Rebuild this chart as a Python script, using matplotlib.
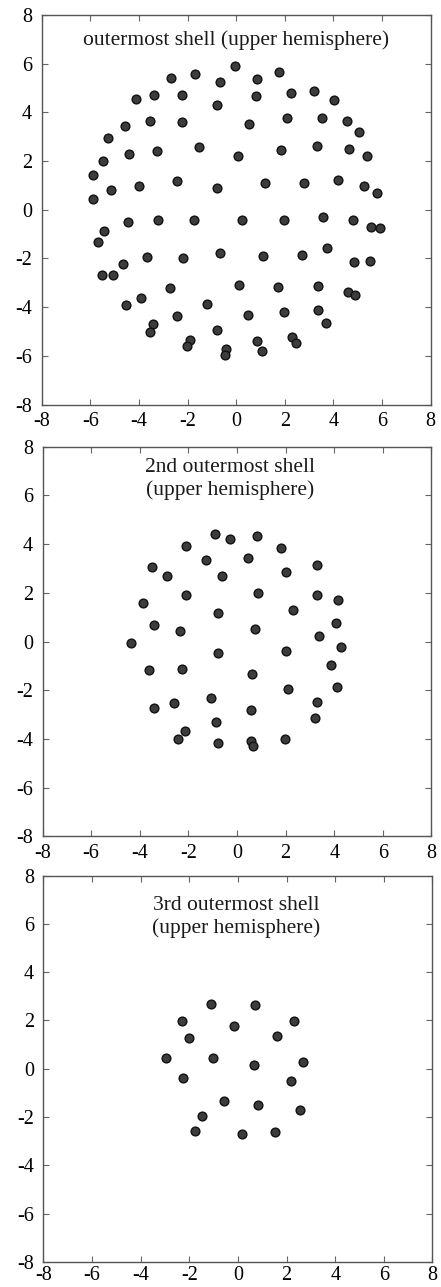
import matplotlib
matplotlib.use("Agg")
import matplotlib.pyplot as plt

# Shell 1 (outermost)
x1 = [-0.05, -1.70, -2.70, -0.67, 0.85, 1.77, -4.13, -3.39, -2.22, -0.80, 0.82, 2.25, 3.22, 4.01,
      -4.57, -3.53, -2.25, 0.53, 2.11, 3.51, 4.54, 5.06, -5.29, -5.46, -4.40, -3.24, -1.51, 0.08,
      1.84, 3.33, 4.62, 5.38, -5.87, -5.14, -4.01, -2.44, -0.77, 1.18, 2.78, 4.20, 5.24, 5.79, -5.91,
      -4.47, -3.22, -1.73, 0.25, 1.98, 3.58, 4.81, 5.53, 5.93, -5.42, -5.67, -3.68, -2.19, -0.66,
      1.11, 2.70, 3.74, 4.86, 5.50, -4.65, -5.51, -5.06, -2.74, 0.10, 1.74, 3.35, 4.58, 4.90, -3.91,
      -4.55, -1.21, -2.43, 0.48, 1.98, 3.37, 3.70, -3.42, -3.55, -0.77, -1.91, -2.03, -0.43, -0.45,
      0.85, 1.07, 2.29, 2.46]
y1 = [5.90, 5.57, 5.39, 5.25, 5.36, 5.65, 4.53, 4.73, 4.73, 4.29, 4.66, 4.81, 4.86, 4.50,
      3.43, 3.66, 3.59, 3.51, 3.76, 3.76, 3.64, 3.20, 2.96, 1.99, 2.28, 2.40, 2.57, 2.22,
      2.44, 2.61, 2.48, 2.19, 1.43, 0.80, 0.99, 1.17, 0.91, 1.08, 1.11, 1.21, 0.99, 0.69, 0.43,
      -0.52, -0.44, -0.41, -0.41, -0.40, -0.30, -0.44, -0.71, -0.73, -0.86, -1.34, -1.93, -1.97, -1.79,
      -1.88, -1.84, -1.58, -2.15, -2.12, -2.22, -2.68, -2.68, -3.21, -3.08, -3.19, -3.14, -3.38, -3.51, -3.62,
      -3.89, -3.88, -4.36, -4.33, -4.21, -4.11, -4.64, -4.71, -5.03, -4.92, -5.34, -5.60, -5.71, -5.97,
      -5.38, -5.79, -5.22, -5.48]

# Shell 2
x2 = [-0.92, -0.29, 0.82, -2.09, 1.81, -3.50, -2.87, -1.29, 0.47, -0.62, 2.03, 3.28, -2.11, 0.86,
      3.29, 4.16, -3.87, -0.78, 2.29, -3.40, -2.33, 0.73, 4.06, 3.39,
      -4.34, 4.27, -0.79, 2.02, 3.86, -3.60, -2.26, 0.63, 2.09, 4.12, -1.05, -2.59, 3.31, -3.41,
      0.59, 3.19, -0.88, -2.12, -2.44, -0.79, 0.57, 0.64, 1.98]
y2 = [4.43, 4.19, 4.32, 3.94, 3.84, 3.04, 2.68, 3.34, 3.45, 2.71, 2.87, 3.13, 1.93, 2.00,
      1.93, 1.70, 1.60, 1.18, 1.29, 0.67, 0.42, 0.51, 0.74, 0.22,
      -0.07, -0.21, -0.49, -0.40, -0.97, -1.16, -1.14, -1.34, -1.96, -1.86, -2.32, -2.52, -2.49, -2.75,
      -2.82, -3.15, -3.30, -3.68, -3.99, -4.16, -4.08, -4.29, -4.01]

# Shell 3
x3 = [-1.12, 0.70, -2.32, -0.16, 2.29, -2.02, 1.62, -2.98, -1.02, 0.64, 2.69,
      -2.27, 2.19, -0.59, 0.84, 2.55, -1.49, -1.78, 0.18, 1.52]
y3 = [2.68, 2.63, 1.99, 1.78, 1.99, 1.27, 1.36, 0.45, 0.44, 0.16, 0.26,
      -0.40, -0.50, -1.34, -1.50, -1.69, -1.97, -2.59, -2.71, -2.64]

titles = ["outermost shell (upper hemisphere)",
          "2nd outermost shell\n(upper hemisphere)",
          "3rd outermost shell\n(upper hemisphere)"]
title_pos = [(0.0, 6.95), (-0.3, 6.67), (-0.08, 6.28)]
ticks = [-8, -6, -4, -2, 0, 2, 4, 6, 8]

plt.rcParams['font.family'] = ['Liberation Serif', 'DejaVu Serif']

fig = plt.figure(figsize=(4.41, 12.87), dpi=100)
boxes = [[0.0946, 0.6856, 0.882, 0.3028],
         [0.0964, 0.3502, 0.882, 0.3027],
         [0.0986, 0.0196, 0.882, 0.3000]]
xpads = [5.5, 5.5, 3.0]
data = [(x1, y1), (x2, y2), (x3, y3)]

for box, (xs, ys), t, tp, xp in zip(boxes, data, titles, title_pos, xpads):
    ax = fig.add_axes(box)
    ax.plot(xs, ys, 'o', ms=6.3, mfc='#3c3c3c', mec='#111111', mew=1.0, ls='none')
    ax.set_xlim(-8, 8)
    ax.set_ylim(-8, 8)
    ax.set_xticks(ticks)
    ax.set_yticks(ticks)
    ax.set_xticklabels([str(v) for v in ticks])
    ax.set_yticklabels([str(v) for v in ticks])
    ax.tick_params(direction='in', length=4, width=0.8, color='#666666',
                   top=True, right=True, labelsize=14.5)
    ax.tick_params(axis='x', pad=xp)
    ax.tick_params(axis='y', pad=7)
    for s in ax.spines.values():
        s.set_color('#555555')
        s.set_linewidth(1.0)
    ax.text(tp[0], tp[1], t, ha='center', va='center', fontsize=15.5,
            linespacing=1.2, color='#1a1a1a')

fig.savefig("out.png", dpi=100)
